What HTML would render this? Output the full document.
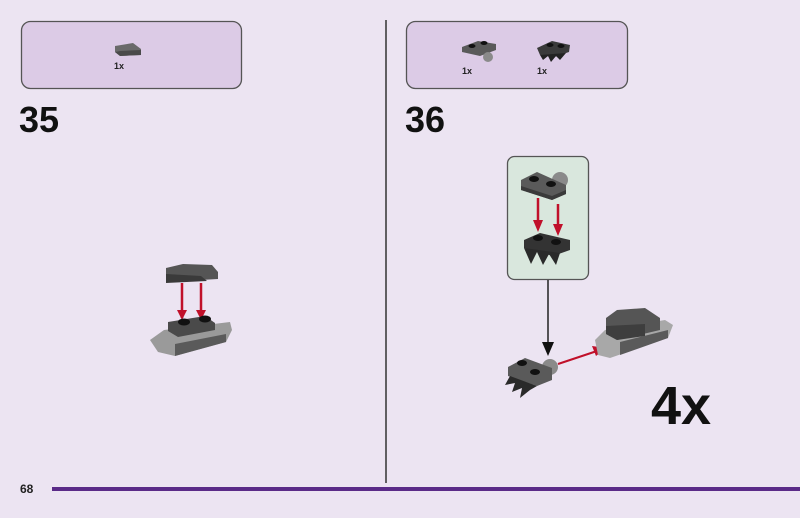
<!DOCTYPE html>
<html><head><meta charset="utf-8"><style>
body{margin:0;width:800px;height:513px;background:#ece4f2;overflow:hidden;font-family:"Liberation Sans",sans-serif}
</style></head><body>
<svg width="800" height="513" xmlns="http://www.w3.org/2000/svg" font-family="Liberation Sans, sans-serif">
<rect width="800" height="513" fill="#ece4f2"/>
<rect x="21.5" y="21.5" width="220" height="67" rx="9" fill="#dccbe6" stroke="#555" stroke-width="1.3"/>
<rect x="406.5" y="21.5" width="221" height="67" rx="9" fill="#dccbe6" stroke="#555" stroke-width="1.3"/>
<polygon points="115,46 133,43 141,49 141,55 120,56 115,52" fill="#6a6a6a"/>
<polygon points="115,52 120,56 141,55 141,50 120,51" fill="#4a4a4a"/>
<text x="114" y="69" font-size="9" font-weight="bold" fill="#222">1x</text>
<polygon points="462,47 478,41 496,44 496,50 480,56 462,52" fill="#5a5a5a"/>
<circle cx="488" cy="57" r="5" fill="#8a8a8a"/>
<ellipse cx="472" cy="46" rx="3.5" ry="2" fill="#111"/><ellipse cx="484" cy="43" rx="3.5" ry="2" fill="#111"/>
<text x="462" y="74" font-size="9" font-weight="bold" fill="#222">1x</text>
<polygon points="537,48 552,41 570,45 569,52 554,57 540,55" fill="#3a3a3a"/>
<polygon points="540,55 543,60 548,56 551,62 556,56 560,60 566,53" fill="#222"/>
<ellipse cx="550" cy="45" rx="3.5" ry="2" fill="#111"/><ellipse cx="561" cy="46" rx="3.5" ry="2" fill="#111"/>
<text x="537" y="74" font-size="9" font-weight="bold" fill="#222">1x</text>
<text x="19" y="132" font-size="36" font-weight="bold" fill="#111">35</text>
<text x="405" y="132" font-size="36" font-weight="bold" fill="#111">36</text>
<line x1="386" y1="20" x2="386" y2="483" stroke="#333" stroke-width="1.5"/>
<line x1="52" y1="489" x2="800" y2="489" stroke="#5a2a88" stroke-width="4"/>
<text x="20" y="493" font-size="12" font-weight="bold" fill="#222">68</text>
<polygon points="166,268 183,264 212,265 218,272 218,279 166,282" fill="#555"/>
<polygon points="166,274 201,276 207,281 166,283" fill="#3a3a3a"/>
<line x1="182" y1="283" x2="182" y2="318" stroke="#c0102a" stroke-width="2.5"/>
<polygon points="177,310 187,310 182,320" fill="#c0102a"/>
<line x1="201" y1="283" x2="201" y2="318" stroke="#c0102a" stroke-width="2.5"/>
<polygon points="196,310 206,310 201,320" fill="#c0102a"/>
<polygon points="150,340 164,330 230,322 232,330 226,342 175,356 158,352" fill="#9a9a9a"/>
<polygon points="175,344 226,334 226,342 175,356" fill="#5a5a5a"/>
<polygon points="168,322 205,316 215,323 215,330 178,337 168,331" fill="#4a4a4a"/>
<ellipse cx="184" cy="322" rx="6" ry="3.5" fill="#111"/><ellipse cx="205" cy="319" rx="6" ry="3.5" fill="#111"/>
<rect x="507.5" y="156.5" width="81" height="123" rx="7" fill="#d9e7dd" stroke="#555" stroke-width="1.3"/>
<circle cx="560" cy="180" r="8" fill="#8a8a8a"/>
<polygon points="521,180 537,172 566,185 566,194 552,200 521,190" fill="#5a5a5a"/>
<polygon points="521,186 552,196 566,190 566,194 552,200 521,190" fill="#3a3a3a"/>
<ellipse cx="534" cy="179" rx="5" ry="3" fill="#111"/><ellipse cx="551" cy="184" rx="5" ry="3" fill="#111"/>
<line x1="538" y1="198" x2="538" y2="228" stroke="#c0102a" stroke-width="2.5"/>
<polygon points="533,220 543,220 538,232" fill="#c0102a"/>
<line x1="558" y1="204" x2="558" y2="232" stroke="#c0102a" stroke-width="2.5"/>
<polygon points="553,224 563,224 558,236" fill="#c0102a"/>
<polygon points="524,240 540,233 570,240 570,250 553,256 524,248" fill="#333"/>
<polygon points="524,248 531,264 537,252 543,265 549,254 556,265 560,253" fill="#2a2a2a"/>
<ellipse cx="538" cy="238" rx="5" ry="3" fill="#111"/><ellipse cx="556" cy="242" rx="5" ry="3" fill="#111"/>
<line x1="548" y1="280" x2="548" y2="345" stroke="#222" stroke-width="1.5"/>
<polygon points="542,342 554,342 548,356" fill="#111"/>
<circle cx="550" cy="367" r="8" fill="#8a8a8a"/>
<polygon points="508,367 525,358 552,368 552,380 537,386 508,376" fill="#5a5a5a"/>
<polygon points="510,376 505,385 515,383 512,392 522,388 520,398 530,390 537,386" fill="#2a2a2a"/>
<ellipse cx="522" cy="363" rx="5" ry="3" fill="#111"/><ellipse cx="535" cy="372" rx="5" ry="3" fill="#111"/>
<line x1="558" y1="364" x2="600" y2="350" stroke="#c0102a" stroke-width="2"/>
<polygon points="592,346 606,348 596,356" fill="#c0102a"/>
<polygon points="595,340 605,330 665,320 673,325 668,338 610,358 598,355" fill="#a8a8a8"/>
<polygon points="620,342 668,330 668,338 620,355" fill="#5a5a5a"/>
<polygon points="606,318 617,310 645,308 660,318 660,330 617,340 606,334" fill="#555"/>
<polygon points="606,326 645,324 645,336 617,340 606,334" fill="#3e3e3e"/>
<text x="651" y="424" font-size="54" font-weight="bold" fill="#111">4x</text>
</svg>
</body></html>
